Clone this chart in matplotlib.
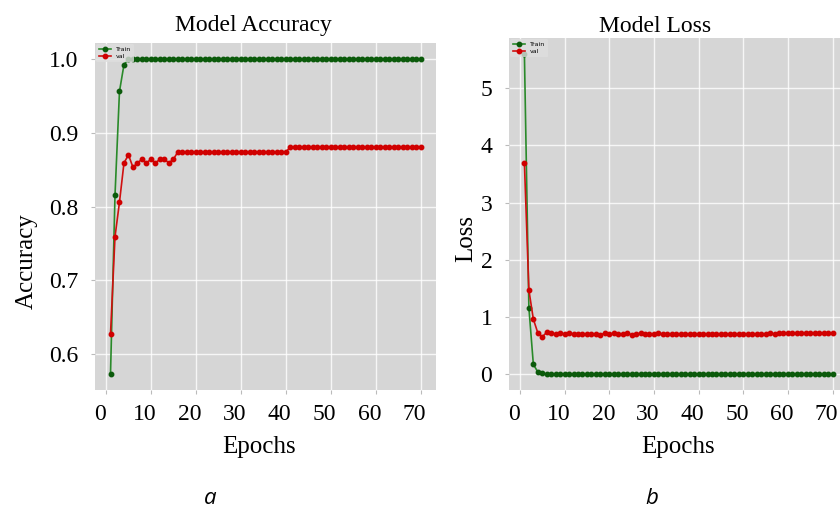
#!/usr/bin/env python3
"""Kurva training: akurasi dan loss per epoch (panel a dan b)."""

import numpy as np
import matplotlib

matplotlib.use("Agg")
import matplotlib.pyplot as plt
from matplotlib.transforms import ScaledTranslation

# ---- data ----
epochs = np.arange(1, 71)

train_acc = [
    0.573, 0.815, 0.956, 0.992, 1.0, 1.0, 1.0, 1.0, 1.0, 1.0,
    1.0, 1.0, 1.0, 1.0, 1.0, 1.0, 1.0, 1.0, 1.0, 1.0,
    1.0, 1.0, 1.0, 1.0, 1.0, 1.0, 1.0, 1.0, 1.0, 1.0,
    1.0, 1.0, 1.0, 1.0, 1.0, 1.0, 1.0, 1.0, 1.0, 1.0,
    1.0, 1.0, 1.0, 1.0, 1.0, 1.0, 1.0, 1.0, 1.0, 1.0,
    1.0, 1.0, 1.0, 1.0, 1.0, 1.0, 1.0, 1.0, 1.0, 1.0,
    1.0, 1.0, 1.0, 1.0, 1.0, 1.0, 1.0, 1.0, 1.0, 1.0,
]
val_acc = [
    0.627, 0.759, 0.806, 0.859, 0.870, 0.853, 0.859, 0.864, 0.859, 0.864,
    0.859, 0.864, 0.864, 0.859, 0.864, 0.874, 0.874, 0.874, 0.874, 0.874,
    0.874, 0.874, 0.874, 0.874, 0.874, 0.874, 0.874, 0.874, 0.874, 0.874,
    0.874, 0.874, 0.874, 0.874, 0.874, 0.874, 0.874, 0.874, 0.874, 0.874,
    0.880, 0.880, 0.880, 0.880, 0.880, 0.880, 0.880, 0.880, 0.880, 0.880,
    0.880, 0.880, 0.880, 0.880, 0.880, 0.880, 0.880, 0.880, 0.880, 0.880,
    0.880, 0.880, 0.880, 0.880, 0.880, 0.880, 0.880, 0.880, 0.880, 0.880,
]
train_loss = [
    5.60, 1.16, 0.17, 0.035, 0.01, 0.0, 0.0, 0.0, 0.0, 0.0,
    0.0, 0.0, 0.0, 0.0, 0.0, 0.0, 0.0, 0.0, 0.0, 0.0,
    0.0, 0.0, 0.0, 0.0, 0.0, 0.0, 0.0, 0.0, 0.0, 0.0,
    0.0, 0.0, 0.0, 0.0, 0.0, 0.0, 0.0, 0.0, 0.0, 0.0,
    0.0, 0.0, 0.0, 0.0, 0.0, 0.0, 0.0, 0.0, 0.0, 0.0,
    0.0, 0.0, 0.0, 0.0, 0.0, 0.0, 0.0, 0.0, 0.0, 0.0,
    0.0, 0.0, 0.0, 0.0, 0.0, 0.0, 0.0, 0.0, 0.0, 0.0,
]
val_loss = [
    3.69, 1.47, 0.96, 0.72, 0.65, 0.73, 0.72, 0.70, 0.71, 0.70,
    0.71, 0.70, 0.70, 0.70, 0.70, 0.70, 0.70, 0.69, 0.71, 0.70,
    0.71, 0.70, 0.70, 0.71, 0.69, 0.70, 0.71, 0.70, 0.70, 0.70,
    0.71, 0.70, 0.70, 0.70, 0.70, 0.70, 0.70, 0.70, 0.70, 0.70,
    0.70, 0.70, 0.70, 0.70, 0.70, 0.70, 0.70, 0.70, 0.70, 0.70,
    0.70, 0.70, 0.70, 0.70, 0.70, 0.71, 0.70, 0.71, 0.71, 0.72,
    0.71, 0.72, 0.71, 0.72, 0.72, 0.71, 0.72, 0.72, 0.72, 0.72,
]

SERIF = ["Liberation Serif", "DejaVu Serif"]
BG = "#d6d6d6"


def style_axes(ax, fig, title, title_x, title_pad, ylabel, ylabel_y, xlabel_x, ylabelpad):
    ax.set_facecolor(BG)
    ax.grid(True, color="white", linewidth=1.0, alpha=0.8)
    ax.set_axisbelow(True)
    for s in ax.spines.values():
        s.set_visible(False)
    ax.set_xticks([0, 10, 20, 30, 40, 50, 60, 70])
    ax.tick_params(axis="both", length=3, color="#bbbbbb", labelsize=17)
    ax.tick_params(axis="x", pad=7)
    ax.tick_params(axis="y", pad=9)
    for lbl in ax.get_xticklabels() + ax.get_yticklabels():
        lbl.set_fontfamily(SERIF)
    # labels angka sumbu-x sedikit bergeser ke kiri seperti di gambar asli
    shift = ScaledTranslation(-6 / 100, 0, fig.dpi_scale_trans)
    for lbl in ax.get_xticklabels():
        lbl.set_transform(lbl.get_transform() + shift)
    ax.set_title(title, fontsize=17, family=SERIF, pad=title_pad, x=title_x)
    ax.set_xlabel("Epochs", fontsize=18, family=SERIF, labelpad=8, x=xlabel_x)
    ax.set_ylabel(ylabel, fontsize=18, family=SERIF, labelpad=ylabelpad, y=ylabel_y)


def plot_pair(ax, train, val):
    ax.plot(epochs, train, color="#2a8a2a", linewidth=1.2, marker="o",
            markersize=3.2, markerfacecolor="#0b5a0b", markeredgecolor="#0b5a0b",
            label="Train")
    ax.plot(epochs, val, color="#d01010", linewidth=1.2, marker="o",
            markersize=3.2, markerfacecolor="#d00000", markeredgecolor="#d00000",
            label="val")
    leg = ax.legend(loc="upper left", fontsize=4.5, frameon=True, borderpad=0.4,
                    handlelength=2.0, labelspacing=0.3, borderaxespad=0.2)
    leg.get_frame().set_facecolor("#dedede")
    leg.get_frame().set_edgecolor("none")


fig = plt.figure(figsize=(8.4, 5.15), dpi=100)

ax1 = fig.add_axes([95 / 840, 125 / 515, 341 / 840, 347 / 515])
plot_pair(ax1, train_acc, val_acc)
ax1.set_yticks([0.6, 0.7, 0.8, 0.9, 1.0])
style_axes(ax1, fig, "Model Accuracy", 0.466, 9, "Accuracy", 0.37, 0.48, 8)

ax2 = fig.add_axes([509 / 840, 125 / 515, 339 / 840, 352 / 515])
plot_pair(ax2, train_loss, val_loss)
ax2.set_yticks([0, 1, 2, 3, 4, 5])
style_axes(ax2, fig, "Model Loss", 0.43, 4, "Loss", 0.43, 0.5, 2)

fig.text(210 / 840, 1 - 499 / 515, "a", fontsize=16, style="italic",
         family=["Open Sans", "DejaVu Sans"], ha="center", va="center")
fig.text(652 / 840, 1 - 499 / 515, "b", fontsize=16, style="italic",
         family=["Open Sans", "DejaVu Sans"], ha="center", va="center")

fig.savefig("out.png", dpi=100)
plt.close(fig)
